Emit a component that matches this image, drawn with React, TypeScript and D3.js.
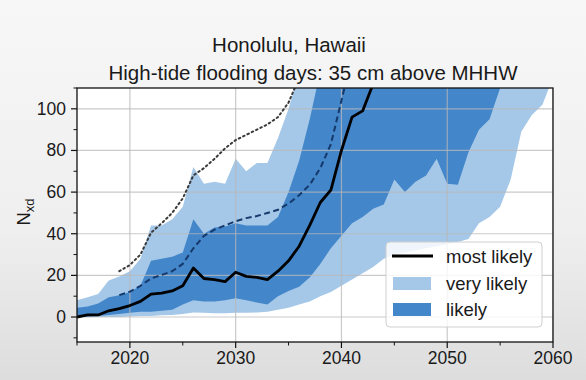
import React from "react";
import * as d3 from "d3";

const years = [2015, 2016, 2017, 2018, 2019, 2020, 2021, 2022, 2023, 2024, 2025, 2026, 2027, 2028, 2029, 2030, 2031, 2032, 2033, 2034, 2035, 2036, 2037, 2038, 2039, 2040, 2041, 2042, 2043, 2044, 2045, 2046, 2047, 2048, 2049, 2050, 2051, 2052, 2053, 2054, 2055, 2056, 2057, 2058, 2059, 2060];

const veryLikelyLow = [0, 0, 0, 0, 0, 0.3, 0.5, 0.5, 0.8, 1, 1.5, 2.2, 2, 1.8, 1.8, 2, 2, 2.2, 2.5, 3.5, 4.5, 6, 7.5, 10, 12, 15, 18, 21, 24, 28, 30, 31, 32, 33, 34, 35, 36, 37.5, 45, 48, 53, 66, 89, 97, 102, 115];
const veryLikelyHigh = [8, 9.5, 11, 17.5, 19.5, 22, 28, 44, 44, 47, 53, 72, 64, 65, 64, 76, 70, 74, 74, 86, 100, 118, 135, 150, 160, 170, 180, 190, 200, 210, 220, 230, 240, 250, 260, 270, 280, 290, 300, 310, 320, 330, 340, 350, 360, 370];
const likelyLow = [0, 0, 0.5, 1, 1.5, 2, 2.5, 2.5, 3, 3.5, 6, 8, 7.5, 7.5, 8, 9, 8, 7, 6, 10, 12.5, 14.5, 19, 25.5, 33, 39, 45, 48, 52, 54, 66, 60, 65, 68, 76, 64, 63.5, 79, 90, 95, 110, 125, 140, 155, 170, 185];
const likelyHigh = [4.5, 5, 6.5, 9.5, 10.5, 12, 15, 27, 28, 29, 31, 47, 40, 43, 43.5, 45, 44, 44, 44, 48, 60, 75, 95, 118, 135, 150, 165, 180, 195, 210, 225, 240, 255, 270, 285, 300, 315, 330, 345, 360, 375, 390, 405, 420, 435, 450];
const mostLikely: (number | null)[] = [0, 1, 1, 3, 4, 5.5, 7.5, 11, 11.5, 12.5, 15, 23.5, 18.5, 18, 17, 21.5, 19.5, 19, 18, 22, 27, 34, 44, 55, 61, 80, 96, 99, 112, 130, null, null, null, null, null, null, null, null, null, null, null, null, null, null, null, null];
const dottedUpper: (number | null)[] = [null, null, null, null, 22, 25, 30, 40.5, 45, 50, 57, 68, 71.5, 76, 81, 85, 87.5, 90, 92.5, 96, 103, 115, 130, null, null, null, null, null, null, null, null, null, null, null, null, null, null, null, null, null, null, null, null, null, null, null];
const dashedMid: (number | null)[] = [null, null, null, null, 10.5, 12.2, 15, 18.5, 20.2, 22, 25.5, 33, 39, 42, 44, 46, 47.5, 48.5, 50, 51.5, 54.5, 58.5, 63.5, 71.5, 83, 104, 125, null, null, null, null, null, null, null, null, null, null, null, null, null, null, null, null, null, null, null];

const xTicks = [2020, 2030, 2040, 2050, 2060];
const xMinor = [2015, 2025, 2035, 2045, 2055];
const yTicks = [0, 20, 40, 60, 80, 100];
const yMinor = [-10, 10, 30, 50, 70, 90, 110];

const titleLine1 = "Honolulu, Hawaii";
const titleLine2 = "High-tide flooding days: 35 cm above MHHW";
const legendLabels = ["most likely", "very likely", "likely"];

const LIGHT = "#a5c8e8";
const MEDIUM = "#4386c9";

export default function App() {
  const W = 586, H = 380;
  const left = 77, right = 553, top = 88, bottom = 342;
  const x = d3.scaleLinear().domain([2015, 2060]).range([left, right]);
  const y = d3.scaleLinear().domain([-12, 110]).range([bottom, top]);

  const band = (lo: number[], hi: number[]) =>
    d3.area<number>()
      .x((_, i) => x(years[i]))
      .y0((_, i) => y(lo[i]))
      .y1((_, i) => y(hi[i]))(years as any) as string;

  const line = (vals: (number | null)[]) =>
    d3.line<number>()
      .defined((_, i) => vals[i] != null)
      .x((_, i) => x(years[i]))
      .y((_, i) => y(vals[i] as number))(years as any) as string;

  const font = "'Liberation Sans', Arial, Helvetica, sans-serif";

  return (
    <div style={{ position: "fixed", left: 0, top: 0 }}>
      <svg width={W} height={H} style={{ display: "block" }} fontFamily={font}>
        <defs>
          <linearGradient id="bg" x1="0" y1="0" x2="0" y2="1">
            <stop offset="0" stopColor="#f7f7f7" />
            <stop offset="0.6" stopColor="#efefef" />
            <stop offset="1" stopColor="#dddddd" />
          </linearGradient>
          <clipPath id="plot">
            <rect x={left} y={top} width={right - left} height={bottom - top} />
          </clipPath>
        </defs>
        <rect x={0} y={0} width={W} height={H} fill="url(#bg)" />
        <rect x={left} y={top} width={right - left} height={bottom - top} fill="#ffffff" />
        <g clipPath="url(#plot)">
          <path d={band(veryLikelyLow, veryLikelyHigh)} fill={LIGHT} />
          <path d={band(likelyLow, likelyHigh)} fill={MEDIUM} />
          {xTicks.map((t) => (
            <line key={"gx" + t} x1={x(t)} x2={x(t)} y1={top} y2={bottom} stroke="#b8b8b8" strokeOpacity={0.75} strokeWidth={1.2} />
          ))}
          {yTicks.map((t) => (
            <line key={"gy" + t} x1={left} x2={right} y1={y(t)} y2={y(t)} stroke="#b8b8b8" strokeOpacity={0.75} strokeWidth={1.2} />
          ))}
          <path d={line(dottedUpper)} fill="none" stroke="#3a3a3a" strokeWidth={2} strokeDasharray="1.6 3.2" strokeLinecap="round" />
          <path d={line(dashedMid)} fill="none" stroke="#16396b" strokeWidth={2} strokeDasharray="6 3.5" />
          <path d={line(mostLikely)} fill="none" stroke="#000000" strokeWidth={2.8} strokeLinejoin="round" />
        </g>
        <rect x={left} y={top} width={right - left} height={bottom - top} fill="none" stroke="#111" strokeWidth={1.3} />
        {xTicks.map((t) => (
          <g key={"xt" + t}>
            <line x1={x(t)} x2={x(t)} y1={bottom} y2={bottom + 6} stroke="#111" strokeWidth={1.2} />
            <text x={x(t)} y={bottom + 22} textAnchor="middle" fontSize={17.5} fill="#1a1a1a">{t}</text>
          </g>
        ))}
        {xMinor.map((t) => (
          <line key={"xm" + t} x1={x(t)} x2={x(t)} y1={bottom} y2={bottom + 3.5} stroke="#111" strokeWidth={1} />
        ))}
        {yTicks.map((t) => (
          <g key={"yt" + t}>
            <line x1={left - 6} x2={left} y1={y(t)} y2={y(t)} stroke="#111" strokeWidth={1.2} />
            <text x={left - 11} y={y(t) + 6} textAnchor="end" fontSize={17.5} fill="#1a1a1a">{t}</text>
          </g>
        ))}
        {yMinor.map((t) => (
          <line key={"ym" + t} x1={left - 3.5} x2={left} y1={y(t)} y2={y(t)} stroke="#111" strokeWidth={1} />
        ))}
        <text transform={`translate(30,${212}) rotate(-90)`} textAnchor="middle" fontSize={18.5} fill="#1a1a1a">
          N<tspan fontSize={13} dy={4}>xd</tspan>
        </text>
        <text x={289} y={52} textAnchor="middle" fontSize={20.5} fill="#1a1a1a">{titleLine1}</text>
        <text x={313} y={80} textAnchor="middle" fontSize={20.5} fill="#1a1a1a">{titleLine2}</text>
        <g>
          <rect x={386} y={242} width={156} height={85} rx={4} fill="#ffffff" fillOpacity={0.82} stroke="#cfcfcf" strokeWidth={1} />
          <line x1={392} x2={433} y1={256} y2={256} stroke="#000" strokeWidth={2.8} />
          <rect x={393} y={277} width={38} height={13} fill={LIGHT} />
          <rect x={393} y={303} width={38} height={13} fill={MEDIUM} />
          <text x={446} y={262.5} fontSize={18.5} fill="#1a1a1a">{legendLabels[0]}</text>
          <text x={446} y={289.5} fontSize={18.5} fill="#1a1a1a">{legendLabels[1]}</text>
          <text x={446} y={315.5} fontSize={18.5} fill="#1a1a1a">{legendLabels[2]}</text>
        </g>
      </svg>
    </div>
  );
}
